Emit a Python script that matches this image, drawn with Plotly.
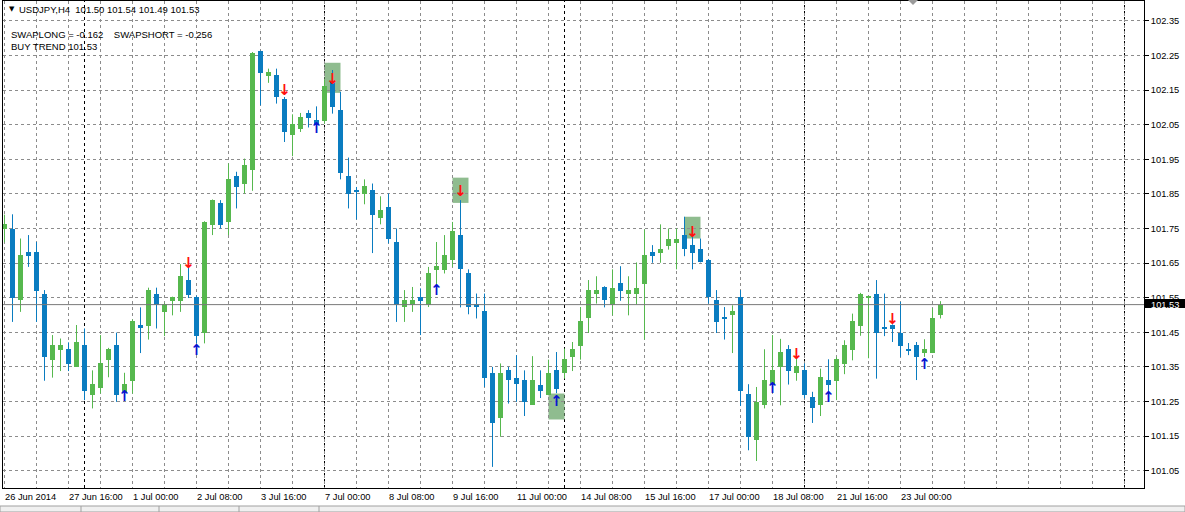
import plotly.graph_objects as go

# ---------------- data (USDJPY, H4) ----------------
bars = list(range(118))
opens = [101.750, 101.750, 101.543, 101.681, 101.681, 101.562, 101.369, 101.398, 101.401, 101.350,
         101.413, 101.268, 101.288, 101.369, 101.413, 101.278, 101.310, 101.471, 101.468, 101.562,
         101.509, 101.541, 101.541, 101.601, 101.552, 101.448, 101.760, 101.824, 101.769, 101.901,
         101.878, 101.918, 102.262, 102.191, 102.193, 102.124, 102.020, 102.039, 102.084, 102.063,
         102.061, 102.174, 102.092, 101.901, 101.861, 101.849, 101.861, 101.781, 101.812, 101.710,
         101.522, 101.528, 101.552, 101.528, 101.629, 101.629, 101.660, 101.731, 101.620, 101.531,
         101.511, 101.331, 101.201, 101.340, 101.319, 101.312, 101.241, 101.299, 101.270, 101.340,
         101.331, 101.379, 101.411, 101.490, 101.562, 101.581, 101.528, 101.593, 101.560, 101.560,
         101.589, 101.681, 101.679, 101.700, 101.708, 101.731, 101.702, 101.692, 101.660, 101.543,
         101.491, 101.500, 101.551, 101.271, 101.138, 101.240, 101.300, 101.350, 101.401, 101.331,
         101.340, 101.263, 101.239, 101.312, 101.310, 101.358, 101.400, 101.468, 101.551, 101.562,
         101.462, 101.471, 101.449, 101.401, 101.413, 101.390, 101.390, 101.500]
highs = [101.790, 101.791, 101.721, 101.731, 101.711, 101.572, 101.442, 101.432, 101.421, 101.471,
         101.461, 101.340, 101.442, 101.405, 101.449, 101.333, 101.487, 101.522, 101.579, 101.579,
         101.535, 101.553, 101.647, 101.640, 101.556, 101.771, 101.834, 101.832, 101.938, 101.914,
         101.952, 102.260, 102.264, 102.212, 102.212, 102.130, 102.080, 102.084, 102.092, 102.103,
         102.181, 102.208, 102.145, 101.955, 101.870, 101.892, 101.880, 101.843, 101.851, 101.750,
         101.572, 101.581, 101.577, 101.639, 101.711, 101.731, 101.769, 101.832, 101.632, 101.562,
         101.562, 101.350, 101.360, 101.350, 101.384, 101.340, 101.381, 101.340, 101.371, 101.393,
         101.403, 101.422, 101.523, 101.601, 101.612, 101.583, 101.632, 101.641, 101.612, 101.652,
         101.747, 101.702, 101.762, 101.750, 101.750, 101.784, 101.726, 101.721, 101.662, 101.572,
         101.523, 101.528, 101.572, 101.300, 101.292, 101.401, 101.442, 101.431, 101.413, 101.374,
         101.360, 101.278, 101.345, 101.372, 101.379, 101.427, 101.504, 101.564, 101.555, 101.601,
         101.562, 101.473, 101.538, 101.419, 101.422, 101.430, 101.520, 101.540]
lows = [101.710, 101.480, 101.509, 101.639, 101.480, 101.310, 101.319, 101.338, 101.338, 101.350,
        101.254, 101.230, 101.273, 101.320, 101.249, 101.263, 101.273, 101.390, 101.429, 101.461,
        101.439, 101.499, 101.509, 101.549, 101.418, 101.418, 101.731, 101.750, 101.731, 101.808,
        101.851, 101.859, 102.106, 102.171, 102.111, 102.000, 101.959, 102.029, 102.042, 102.034,
        102.053, 102.082, 101.892, 101.808, 101.776, 101.820, 101.679, 101.762, 101.707, 101.480,
        101.480, 101.509, 101.442, 101.523, 101.583, 101.620, 101.639, 101.522, 101.502, 101.490,
        101.292, 101.061, 101.148, 101.244, 101.249, 101.208, 101.241, 101.260, 101.270, 101.274,
        101.316, 101.338, 101.371, 101.448, 101.533, 101.522, 101.499, 101.541, 101.499, 101.530,
        101.429, 101.651, 101.651, 101.689, 101.632, 101.670, 101.632, 101.652, 101.533, 101.448,
        101.429, 101.390, 101.237, 101.109, 101.078, 101.230, 101.295, 101.239, 101.299, 101.310,
        101.259, 101.188, 101.208, 101.275, 101.254, 101.329, 101.369, 101.440, 101.375, 101.316,
        101.439, 101.422, 101.379, 101.384, 101.312, 101.379, 101.390, 101.490]
closes = [101.764, 101.549, 101.673, 101.671, 101.570, 101.379, 101.413, 101.413, 101.358, 101.421,
          101.280, 101.300, 101.360, 101.401, 101.268, 101.300, 101.483, 101.461, 101.572, 101.530,
          101.531, 101.551, 101.612, 101.559, 101.439, 101.769, 101.832, 101.760, 101.892, 101.870,
          101.933, 102.256, 102.200, 102.203, 102.130, 102.029, 102.051, 102.071, 102.070, 102.049,
          102.161, 102.101, 101.911, 101.849, 101.856, 101.872, 101.788, 101.803, 101.719, 101.530,
          101.543, 101.543, 101.541, 101.620, 101.641, 101.673, 101.742, 101.632, 101.522, 101.522,
          101.319, 101.188, 101.331, 101.312, 101.300, 101.249, 101.312, 101.281, 101.331, 101.285,
          101.372, 101.401, 101.482, 101.572, 101.572, 101.543, 101.579, 101.570, 101.572, 101.579,
          101.673, 101.671, 101.692, 101.721, 101.721, 101.692, 101.679, 101.652, 101.551, 101.480,
          101.489, 101.512, 101.281, 101.148, 101.250, 101.312, 101.340, 101.392, 101.338, 101.353,
          101.268, 101.230, 101.321, 101.297, 101.372, 101.413, 101.482, 101.562, 101.553, 101.448,
          101.460, 101.459, 101.411, 101.399, 101.379, 101.401, 101.490, 101.530]

# signal arrows
up_bars = [15, 24, 39, 54, 69, 96, 103, 115]
up_prices = [101.262, 101.395, 102.037, 101.569, 101.249, 101.286, 101.260, 101.356]
down_bars = [23, 35, 41, 57, 86, 99, 111]
down_prices = [101.647, 102.147, 102.179, 101.856, 101.736, 101.385, 101.486]

# shaded rectangles (bar from, bar to, price top, price bottom)
box_start = [40, 56, 68, 85]
box_end = [42, 58, 70, 87]
box_top = [102.229, 101.897, 101.273, 101.784]
box_bottom = [102.142, 101.824, 101.198, 101.721]

# period separators (bar positions)
week_bars = [10, 40, 70, 100, 140]

# time axis labels
time_label_bars = [0, 8, 16, 24, 32, 40, 48, 56, 64, 72, 80, 88, 96, 104, 112]
time_labels = ["26 Jun 2014", "27 Jun 16:00", "1 Jul 00:00", "2 Jul 08:00", "3 Jul 16:00",
               "7 Jul 00:00", "8 Jul 08:00", "9 Jul 16:00", "11 Jul 00:00", "14 Jul 08:00",
               "15 Jul 16:00", "17 Jul 00:00", "18 Jul 08:00", "21 Jul 16:00", "23 Jul 00:00"]

# price axis labels
price_ticks = [101.05, 101.15, 101.25, 101.35, 101.45, 101.55, 101.65, 101.75,
               101.85, 101.95, 102.05, 102.15, 102.25, 102.35]
price_labels = ["%.2f" % p for p in price_ticks]

swap_long = -0.162
swap_short = -0.256
symbol = "USDJPY,H4"

# ---------------- layout geometry ----------------
W, H = 1185, 512
L_PX, R_PX, T_PX, B_PX = 3, 1144, 1, 488
BAR0_PX, PX_PER_BAR = 4.5, 8.0
REF_PRICE, REF_PX, PX_PER_UNIT = 101.25, 401.5, 346.0
x_range = [(L_PX - BAR0_PX) / PX_PER_BAR, (R_PX - BAR0_PX) / PX_PER_BAR]
y_range = [REF_PRICE - (B_PX - REF_PX) / PX_PER_UNIT, REF_PRICE + (REF_PX - T_PX) / PX_PER_UNIT]


def px(X):
    return (X - L_PX) / (R_PX - L_PX)


def py(Y):
    return (B_PX - Y) / (B_PX - T_PX)


GREEN = "#56b84e"
BLUE = "#0a7cc0"
GRID = "#8c8c8c"
FONT = "Liberation Sans, Arial, sans-serif"

fig = go.Figure()

# candle wicks
for up_flag, col in ((True, GREEN), (False, BLUE)):
    wx, wy = [], []
    for i, o, h, l, c in zip(bars, opens, highs, lows, closes):
        if (c >= o) == up_flag:
            wx += [i, i, None]
            wy += [l, h, None]
    fig.add_trace(go.Scatter(x=wx, y=wy, mode="lines", line=dict(color=col, width=1),
                             hoverinfo="skip", showlegend=False))

# candle bodies
min_body = 1.0 / PX_PER_UNIT
bases, heights, colors = [], [], []
for o, c in zip(opens, closes):
    lo, hi = min(o, c), max(o, c)
    if hi - lo < min_body:
        mid = (lo + hi) / 2
        lo, hi = mid - min_body / 2, mid + min_body / 2
    bases.append(lo)
    heights.append(hi - lo)
    colors.append(GREEN if c >= o else BLUE)
fig.add_trace(go.Bar(x=bars, y=heights, base=bases, width=5 / PX_PER_BAR,
                     marker=dict(color=colors, line=dict(width=0)),
                     hoverinfo="skip", showlegend=False))

# arrows
fig.add_trace(go.Scatter(x=up_bars, y=up_prices, mode="text", text=["↑"] * len(up_bars),
                         textposition="middle center",
                         textfont=dict(family="DejaVu Sans", size=15, color="#0a14d2", weight="bold"),
                         hoverinfo="skip", showlegend=False))
fig.add_trace(go.Scatter(x=down_bars, y=down_prices, mode="text", text=["↓"] * len(down_bars),
                         textposition="middle center",
                         textfont=dict(family="DejaVu Sans", size=15, color="#ff1010", weight="bold"),
                         hoverinfo="skip", showlegend=False))

shapes = []
# shaded rectangles
for b0, b1, t, b in zip(box_start, box_end, box_top, box_bottom):
    shapes.append(dict(type="rect", xref="x", yref="y", x0=b0, x1=b1, y0=b, y1=t,
                       fillcolor="#8fbc8f", line=dict(width=0), layer="below"))
# period separators
for wb in week_bars:
    shapes.append(dict(type="line", xref="x", yref="paper", x0=wb, x1=wb, y0=0, y1=1,
                       line=dict(color="#000000", width=1, dash="3px,3px"), layer="below"))
# current price line
last_close = closes[-1]
shapes.append(dict(type="line", xref="paper", yref="y", x0=0, x1=1, y0=last_close, y1=last_close,
                   line=dict(color="#7a7a7a", width=1), layer="above"))
# current price box on the axis
shapes.append(dict(type="rect", xref="paper", yref="paper", x0=px(1145), x1=px(1186),
                   y0=py(308), y1=py(299), fillcolor="#000000", line=dict(width=0), layer="above"))
# chart shift marker
shapes.append(dict(type="path", xref="paper", yref="paper",
                   path="M %f,%f L %f,%f L %f,%f Z" % (px(908), py(0), px(918), py(0), px(913), py(5)),
                   fillcolor="#9a9a9a", line=dict(width=0), layer="above"))
# bottom tab strip
shapes.append(dict(type="rect", xref="paper", yref="paper", x0=px(0), x1=px(1185), y0=py(512), y1=py(506),
                   fillcolor="#f0f0f0", line=dict(color="#a0a0a0", width=1), layer="above"))
for tx in [81, 159, 239, 319]:
    shapes.append(dict(type="line", xref="paper", yref="paper", x0=px(tx), x1=px(tx), y0=py(512), y1=py(506),
                       line=dict(color="#a0a0a0", width=1), layer="above"))

annotations = []
# header texts
annotations.append(dict(xref="paper", yref="paper", x=px(7), y=py(9), xanchor="left", yanchor="middle",
                        text="▼", showarrow=False, font=dict(family="DejaVu Sans", size=7, color="#000")))
annotations.append(dict(xref="paper", yref="paper", x=px(17), y=py(9.5), xanchor="left", yanchor="middle",
                        text="%s\u00a0\u00a0%.2f %.2f %.2f %.2f" % (symbol, opens[-1], highs[-1], lows[-1], closes[-1]),
                        showarrow=False, font=dict(family=FONT, size=9.5, color="#000")))
annotations.append(dict(xref="paper", yref="paper", x=px(9), y=py(34.5), xanchor="left", yanchor="middle",
                        text="SWAPLONG = %.3f\u00a0\u00a0\u00a0\u00a0SWAPSHORT = %.3f" % (swap_long, swap_short),
                        showarrow=False, font=dict(family=FONT, size=9.5, color="#000")))
annotations.append(dict(xref="paper", yref="paper", x=px(9), y=py(46.5), xanchor="left", yanchor="middle",
                        text="BUY TREND %.2f" % last_close,
                        showarrow=False, font=dict(family=FONT, size=9.5, color="#000")))
# time labels
for b, t in zip(time_label_bars, time_labels):
    annotations.append(dict(xref="x", yref="paper", x=b, y=py(497), xanchor="left", yanchor="middle",
                            xshift=-2, text=t, showarrow=False, font=dict(family=FONT, size=9.3, color="#000")))
# current price label
annotations.append(dict(xref="paper", yref="y", x=px(1165), y=last_close, xanchor="center", yanchor="middle",
                        text="%.2f" % last_close, showarrow=False,
                        font=dict(family=FONT, size=9.3, color="#ffffff")))

fig.update_layout(
    width=W, height=H,
    margin=dict(l=L_PX, r=W - R_PX, t=T_PX, b=H - B_PX, pad=0),
    paper_bgcolor="#ffffff", plot_bgcolor="#ffffff",
    showlegend=False, bargap=0, barmode="overlay",
    shapes=shapes, annotations=annotations,
    font=dict(family=FONT, size=9.3, color="#000"),
    xaxis=dict(range=x_range, tickmode="array", tickvals=list(range(0, 144, 4)),
               showticklabels=False, ticks="", showgrid=True, gridcolor=GRID, gridwidth=1,
               griddash="3px,3px", zeroline=False, showline=True, linecolor="#000", linewidth=1,
               mirror=True, fixedrange=True),
    yaxis=dict(range=y_range, side="right", tickmode="array", tickvals=price_ticks, ticktext=price_labels,
               ticks="outside", ticklen=4, tickcolor="#000", showgrid=True, gridcolor=GRID, gridwidth=1,
               griddash="3px,3px", zeroline=False, showline=True, linecolor="#000", linewidth=1,
               mirror=True, automargin=False,
               tickfont=dict(family=FONT, size=9.3, color="#000"), fixedrange=True),
)

fig.write_html("out.html", config={"displayModeBar": False},
               post_script="document.body.style.margin='0px';document.body.style.padding='0px';")
